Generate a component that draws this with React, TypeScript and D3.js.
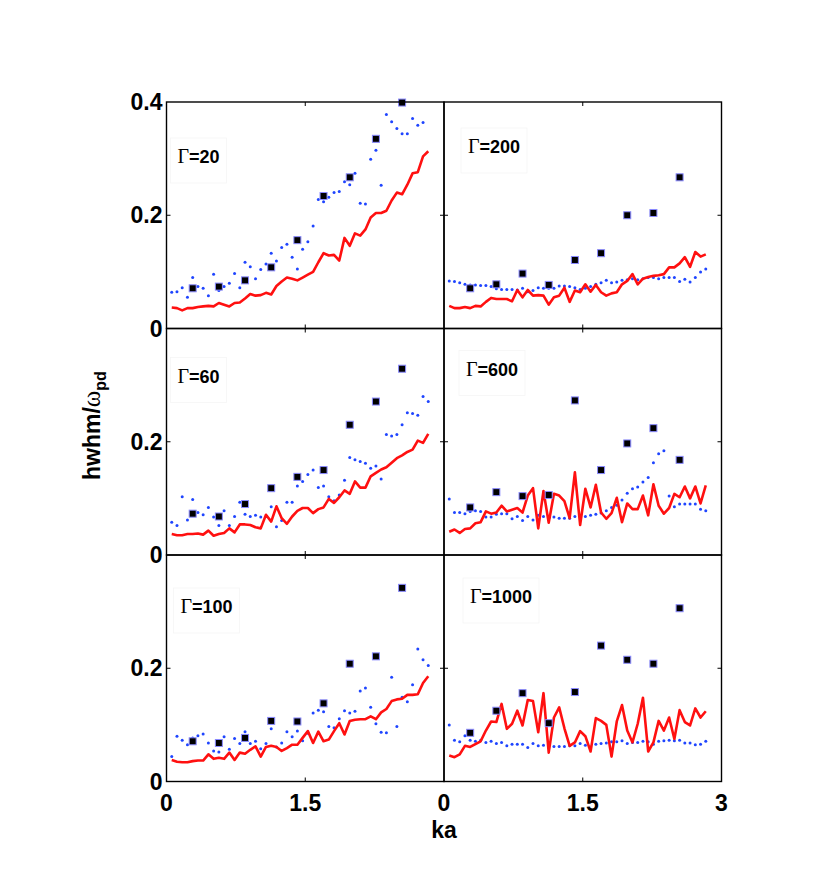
import * as d3 from "d3";

// ka grid of the simulation curves and of the square markers
const kaGrid = d3.range(1, 51).map((n) => +(n * 0.0566).toFixed(4));
const squareKa = [0.283, 0.566, 0.849, 1.132, 1.415, 1.698, 1.981, 2.264, 2.547];

const gammaLabels = ["20", "200", "60", "600", "100", "1000"];

// red solid line
const red20 = [0.037, 0.036, 0.032, 0.036, 0.036, 0.038, 0.039, 0.04, 0.039, 0.045, 0.042, 0.039, 0.045, 0.046, 0.053, 0.061, 0.058, 0.059, 0.063, 0.06, 0.075, 0.083, 0.09, 0.088, 0.085, 0.09, 0.095, 0.1, 0.117, 0.133, 0.129, 0.13, 0.12, 0.16, 0.146, 0.168, 0.164, 0.175, 0.196, 0.204, 0.204, 0.208, 0.226, 0.24, 0.237, 0.254, 0.274, 0.276, 0.304, 0.313];
const red200 = [0.04, 0.036, 0.036, 0.038, 0.036, 0.04, 0.039, 0.047, 0.054, 0.052, 0.052, 0.052, 0.048, 0.068, 0.055, 0.068, 0.058, 0.059, 0.058, 0.042, 0.055, 0.058, 0.072, 0.047, 0.067, 0.064, 0.078, 0.065, 0.077, 0.064, 0.058, 0.062, 0.064, 0.078, 0.084, 0.096, 0.078, 0.088, 0.091, 0.093, 0.094, 0.096, 0.108, 0.108, 0.115, 0.126, 0.109, 0.135, 0.127, 0.131];
const red60 = [0.037, 0.035, 0.035, 0.037, 0.037, 0.038, 0.036, 0.043, 0.034, 0.037, 0.039, 0.047, 0.04, 0.054, 0.054, 0.053, 0.049, 0.047, 0.071, 0.059, 0.086, 0.065, 0.055, 0.068, 0.078, 0.083, 0.083, 0.074, 0.081, 0.084, 0.099, 0.092, 0.102, 0.114, 0.108, 0.13, 0.119, 0.119, 0.139, 0.145, 0.151, 0.155, 0.163, 0.171, 0.176, 0.182, 0.186, 0.202, 0.198, 0.214];
const red600 = [0.041, 0.045, 0.039, 0.046, 0.047, 0.056, 0.058, 0.077, 0.073, 0.075, 0.087, 0.077, 0.08, 0.083, 0.075, 0.105, 0.118, 0.047, 0.113, 0.057, 0.108, 0.105, 0.095, 0.065, 0.146, 0.053, 0.117, 0.084, 0.124, 0.075, 0.064, 0.074, 0.101, 0.058, 0.091, 0.081, 0.081, 0.105, 0.07, 0.125, 0.087, 0.073, 0.083, 0.108, 0.102, 0.121, 0.1, 0.121, 0.091, 0.123];
const red100 = [0.038, 0.035, 0.034, 0.034, 0.036, 0.037, 0.037, 0.048, 0.04, 0.042, 0.04, 0.051, 0.038, 0.051, 0.049, 0.056, 0.062, 0.044, 0.061, 0.063, 0.061, 0.054, 0.059, 0.065, 0.065, 0.077, 0.089, 0.068, 0.088, 0.071, 0.074, 0.089, 0.103, 0.083, 0.107, 0.109, 0.11, 0.11, 0.115, 0.11, 0.122, 0.128, 0.142, 0.145, 0.146, 0.153, 0.153, 0.154, 0.174, 0.186];
const red1000 = [0.046, 0.043, 0.048, 0.063, 0.061, 0.066, 0.071, 0.09, 0.106, 0.105, 0.137, 0.093, 0.102, 0.125, 0.099, 0.144, 0.142, 0.087, 0.156, 0.051, 0.113, 0.131, 0.094, 0.063, 0.069, 0.089, 0.08, 0.053, 0.112, 0.107, 0.1, 0.044, 0.106, 0.135, 0.09, 0.069, 0.102, 0.148, 0.053, 0.069, 0.107, 0.09, 0.113, 0.075, 0.126, 0.105, 0.099, 0.129, 0.113, 0.124];

// blue dots
const blue20 = [0.064, 0.065, 0.072, 0.055, 0.09, 0.074, 0.071, 0.058, 0.096, 0.067, 0.074, 0.08, 0.097, 0.072, 0.117, 0.109, 0.088, 0.104, 0.114, 0.133, 0.119, 0.143, 0.149, 0.126, 0.105, 0.14, 0.153, 0.181, 0.228, 0.224, 0.232, 0.24, 0.242, 0.259, 0.254, 0.274, 0.221, 0.22, 0.299, 0.315, 0.253, 0.378, 0.365, 0.353, 0.344, 0.344, 0.371, 0.359, 0.364];
const blue200 = [0.084, 0.083, 0.081, 0.078, 0.077, 0.077, 0.076, 0.076, 0.074, 0.07, 0.069, 0.069, 0.069, 0.068, 0.071, 0.065, 0.067, 0.072, 0.071, 0.071, 0.071, 0.075, 0.075, 0.074, 0.072, 0.069, 0.071, 0.074, 0.078, 0.081, 0.085, 0.081, 0.082, 0.085, 0.086, 0.088, 0.086, 0.088, 0.09, 0.09, 0.088, 0.09, 0.09, 0.09, 0.083, 0.087, 0.082, 0.09, 0.1, 0.105];
const blue60 = [0.058, 0.052, 0.103, 0.062, 0.098, 0.075, 0.071, 0.084, 0.067, 0.052, 0.078, 0.052, 0.068, 0.093, 0.072, 0.068, 0.07, 0.067, 0.068, 0.085, 0.05, 0.061, 0.093, 0.093, 0.122, 0.13, 0.142, 0.15, 0.119, 0.122, 0.103, 0.096, 0.106, 0.132, 0.172, 0.168, 0.165, 0.162, 0.153, 0.157, 0.134, 0.213, 0.21, 0.213, 0.23, 0.251, 0.25, 0.247, 0.28, 0.271];
const blue600 = [0.099, 0.075, 0.075, 0.073, 0.077, 0.078, 0.077, 0.067, 0.067, 0.072, 0.073, 0.073, 0.064, 0.068, 0.061, 0.068, 0.062, 0.07, 0.068, 0.065, 0.067, 0.065, 0.065, 0.065, 0.068, 0.068, 0.068, 0.07, 0.072, 0.074, 0.078, 0.084, 0.088, 0.097, 0.109, 0.117, 0.12, 0.129, 0.137, 0.163, 0.179, 0.184, 0.104, 0.085, 0.09, 0.09, 0.09, 0.09, 0.081, 0.078];
const blue100 = [0.044, 0.08, 0.073, 0.065, 0.077, 0.081, 0.084, 0.068, 0.054, 0.052, 0.079, 0.057, 0.076, 0.067, 0.088, 0.067, 0.071, 0.058, 0.067, 0.093, 0.061, 0.068, 0.088, 0.079, 0.089, 0.072, 0.085, 0.121, 0.126, 0.123, 0.097, 0.095, 0.111, 0.125, 0.121, 0.124, 0.16, 0.165, 0.131, 0.102, 0.087, 0.086, 0.184, 0.097, 0.149, 0.141, 0.171, 0.234, 0.215, 0.205];
const blue1000 = [0.1, 0.073, 0.07, 0.081, 0.073, 0.071, 0.073, 0.069, 0.071, 0.067, 0.069, 0.063, 0.066, 0.066, 0.066, 0.06, 0.067, 0.063, 0.064, 0.066, 0.062, 0.062, 0.062, 0.063, 0.063, 0.067, 0.064, 0.061, 0.066, 0.067, 0.068, 0.07, 0.07, 0.072, 0.067, 0.069, 0.069, 0.071, 0.07, 0.066, 0.071, 0.072, 0.073, 0.072, 0.073, 0.068, 0.068, 0.065, 0.066, 0.071];

// black squares
const sq20 = [0.071, 0.074, 0.085, 0.108, 0.156, 0.234, 0.267, 0.335, 0.399];
const sq200 = [0.071, 0.078, 0.097, 0.077, 0.121, 0.133, 0.2, 0.204, 0.267];
const sq60 = [0.073, 0.068, 0.09, 0.118, 0.138, 0.15, 0.23, 0.271, 0.329];
const sq600 = [0.084, 0.111, 0.104, 0.106, 0.273, 0.15, 0.197, 0.224, 0.168];
const sq100 = [0.071, 0.068, 0.077, 0.107, 0.106, 0.138, 0.208, 0.221, 0.342];
const sq1000 = [0.086, 0.125, 0.156, 0.103, 0.158, 0.24, 0.215, 0.208, 0.306];

const reds = [red20, red200, red60, red600, red100, red1000];
const blues = [blue20, blue200, blue60, blue600, blue100, blue1000];
const squares = [sq20, sq200, sq60, sq600, sq100, sq1000];

const xTicks = [0, 1.5, 3];
const yTicks = [0, 0.2, 0.4];

// layout
const colX = [166.5, 444];
const rowY = [102, 328.5, 555];
const PW = 277.5;
const PH = 226.5;
const labelOffset = [
  [11, 61],
  [24, 51],
  [11, 54],
  [22, 47],
  [14, 58],
  [26, 48],
];

const SANS = "'Liberation Sans', Arial, Helvetica, sans-serif";
const SERIF = "'Liberation Serif', 'DejaVu Serif', serif";
const RED = "#ff1010";
const BLUE = "#1f45ff";

function Panel({ idx }: { idx: number }) {
  const col = idx % 2;
  const row = Math.floor(idx / 2);
  const x0 = colX[col];
  const y0 = rowY[row];
  const x = d3.scaleLinear().domain([0, 3]).range([x0, x0 + PW]);
  const y = d3.scaleLinear().domain([0, 0.4]).range([y0 + PH, y0]);

  const line = d3
    .line<number>()
    .x((_, i) => x(kaGrid[i]))
    .y((d) => y(d));

  const [lx, ly] = labelOffset[idx];
  const tick = 4;

  return (
    <g>
      {/* faint label box */}
      <rect
        x={x0 + lx - 7}
        y={y0 + ly - 25}
        width={gammaLabels[idx].length * 10 + 36}
        height={45}
        fill="none"
        stroke="#f5f5f5"
        strokeWidth={0.8}
      />
      {blues[idx].map((v, i) => (
        <circle key={"b" + i} cx={x(kaGrid[i])} cy={y(v)} r={1.5} fill={BLUE} />
      ))}
      <path d={line(reds[idx]) || ""} fill="none" stroke={RED} strokeWidth={2.6} strokeLinejoin="round" />
      {squares[idx].map((v, i) => (
        <rect
          key={"s" + i}
          x={x(squareKa[i]) - 3.5}
          y={y(v) - 3.5}
          width={7}
          height={7}
          fill="#000"
          stroke="#8a8aff"
          strokeWidth={1}
        />
      ))}
      {/* frame */}
      <rect x={x0} y={y0} width={PW} height={PH} fill="none" stroke="#000" strokeWidth={1.4} />
      {/* inner ticks */}
      {yTicks.slice(1, 2).map((t) => (
        <g key={"yt" + t}>
          <line x1={x0} x2={x0 + tick} y1={y(t)} y2={y(t)} stroke="#000" strokeWidth={1} />
          <line x1={x0 + PW} x2={x0 + PW - tick} y1={y(t)} y2={y(t)} stroke="#000" strokeWidth={1} />
        </g>
      ))}
      {xTicks.slice(1, 2).map((t) => (
        <g key={"xt" + t}>
          <line x1={x(t)} x2={x(t)} y1={y0 + PH} y2={y0 + PH - tick} stroke="#000" strokeWidth={1} />
          <line x1={x(t)} x2={x(t)} y1={y0} y2={y0 + tick} stroke="#000" strokeWidth={1} />
        </g>
      ))}
      {/* Gamma label */}
      <text x={x0 + lx} y={y0 + ly} fontSize={18}>
        <tspan fontFamily={SERIF} fontSize={20}>
          Γ
        </tspan>
        <tspan fontFamily={SANS} fontWeight="bold">
          ={gammaLabels[idx]}
        </tspan>
      </text>
      {/* y tick labels, left column only */}
      {col === 0 &&
        yTicks
          .filter((t) => row === 0 || t < 0.4)
          .map((t) => (
            <text
              key={"yl" + t}
              x={x0 - 4}
              y={y(t)}
              textAnchor="end"
              dominantBaseline="central"
              fontFamily={SANS}
              fontWeight="bold"
              fontSize={23}
            >
              {t === 0 ? "0" : d3.format(".1f")(t)}
            </text>
          ))}
      {/* x tick labels, bottom row only */}
      {row === 2 &&
        xTicks
          .filter((t) => col === 1 || t < 3)
          .map((t) => (
            <text
              key={"xl" + t}
              x={x(t)}
              y={y0 + PH + 21}
              textAnchor="middle"
              dominantBaseline="central"
              fontFamily={SANS}
              fontWeight="bold"
              fontSize={23}
            >
              {t === 0 ? "0" : String(t)}
            </text>
          ))}
    </g>
  );
}

export default function App() {
  return (
    <svg
      width={830}
      height={880}
      style={{ position: "absolute", left: 0, top: 0, background: "#fff" }}
    >
      {d3.range(6).map((i) => (
        <Panel key={i} idx={i} />
      ))}
      <text
        x={444}
        y={838}
        textAnchor="middle"
        fontFamily={SANS}
        fontWeight="bold"
        fontSize={23}
      >
        ka
      </text>
      <text transform="translate(100,480) rotate(-90)" fontFamily={SANS} fontWeight="bold" fontSize={23}>
        hwhm/
        <tspan fontFamily={SERIF} fontWeight="normal" fontSize={25}>
          ω
        </tspan>
        <tspan fontSize={16} dy={6}>
          pd
        </tspan>
      </text>
    </svg>
  );
}
